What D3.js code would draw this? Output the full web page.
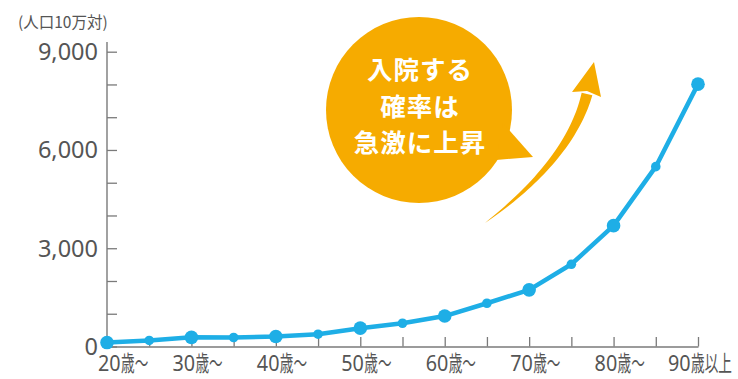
<!DOCTYPE html>
<html><head><meta charset="utf-8">
<script src="https://cdn.jsdelivr.net/npm/d3@7"></script>
<style>
html,body{margin:0;padding:0;background:#fff;}
svg{display:block;font-family:"Noto Sans CJK JP","Noto Sans",sans-serif;}
</style></head>
<body>
<svg id="chart" width="738" height="379"></svg>
<script>
const ages = ["20","25","30","35","40","45","50","55","60","65","70","75","80","85","90"];
const rates = [120, 185, 280, 275, 305, 375, 560, 710, 930, 1320, 1730, 2510, 3690, 5490, 8010];
const majorAges = ["20","30","40","50","60","70","80","90"];
const xLabels = ["20歳〜","30歳〜","40歳〜","50歳〜","60歳〜","70歳〜","80歳〜","90歳以上"];
const yTicks = [0,1000,2000,3000,4000,5000,6000,7000,8000,9000];
const yLabelTicks = [0,3000,6000,9000];
const unitLabel = "(人口10万対)";
const bubbleLines = ["入院する","確率は","急激に上昇"];

const svg = d3.select("#chart");
const x = d3.scalePoint().domain(ages).range([107, 698]);
const y = d3.scaleLinear().domain([0, 9000]).range([346.5, 51.7]);
const gray = "#7a7a7a", textGray = "#555";
const blue = "#1eaee6", orange = "#f6ab00";

// unit label
svg.append("text").attr("x", 18).attr("y", 28).attr("font-size", 15.5).attr("fill", textGray)
  .text(unitLabel);

// y axis
const yAxis = svg.append("g").attr("transform", "translate(107,0)")
  .call(d3.axisRight(y).tickValues(yTicks).tickSize(10).tickFormat(""));
yAxis.select(".domain").attr("d", `M0,42V${y(0)}`).attr("stroke", gray).attr("stroke-width", 1.4);
yAxis.selectAll(".tick line").attr("stroke", gray).attr("stroke-width", 1.3);

svg.append("g").selectAll("text").data(yLabelTicks).join("text")
  .attr("x", 98).attr("y", d => y(d)).attr("dy", "0.36em")
  .attr("text-anchor", "end").attr("font-family", "'Noto Sans',sans-serif")
  .attr("font-size", 23.5).attr("fill", textGray)
  .text(d => d3.format(",")(d));

// x axis
const xAxis = svg.append("g").attr("transform", `translate(0,${y(0)})`)
  .call(d3.axisTop(x).tickSize(9.5).tickFormat("").tickSizeOuter(0));
xAxis.select(".domain").attr("stroke", gray).attr("stroke-width", 1.4);
xAxis.selectAll(".tick line").attr("stroke", gray).attr("stroke-width", 1.3);

// x labels: digits + condensed kanji
const lab = svg.append("g").selectAll("g").data(majorAges).join("g")
  .attr("transform", (d, i) => {
    let sx = x(d) - 19;
    if (i === 0) sx = x(d) - 9;
    if (i === majorAges.length - 1) sx = 668;
    return `translate(${sx},371)`;
  });
lab.append("text").attr("font-size", 22).attr("fill", textGray)
  .attr("font-family", "'Noto Sans',sans-serif")
  .attr("transform", "scale(0.9,1)")
  .text(d => d);
lab.append("text").attr("font-size", 22).attr("fill", textGray)
  .attr("transform", "translate(23,0) scale(0.62,1)")
  .text((d, i) => xLabels[i].slice(d.length));

// line
const data = ages.map((a, i) => ({a, v: rates[i]}));
svg.append("path").datum(data)
  .attr("fill", "none").attr("stroke", blue).attr("stroke-width", 4.5)
  .attr("stroke-linejoin", "round")
  .attr("d", d3.line().x(d => x(d.a)).y(d => y(d.v)));
svg.append("g").selectAll("circle").data(data).join("circle")
  .attr("cx", d => x(d.a)).attr("cy", d => y(d.v))
  .attr("r", d => majorAges.includes(d.a) ? 6.8 : 4.8)
  .attr("fill", blue);

// speech bubble
svg.append("circle").attr("cx", 419).attr("cy", 110).attr("r", 93).attr("fill", orange);
svg.append("path").attr("d", "M503,123L533,157L496,160Z").attr("fill", orange);
svg.append("g").selectAll("text").data(bubbleLines).join("text")
  .attr("x", 420).attr("y", (d, i) => 70 + i * 36.5).attr("dy", "0.36em")
  .attr("text-anchor", "middle").attr("font-size", 25.5).attr("font-weight", "bold")
  .attr("letter-spacing", 1).attr("fill", "#fff").text(d => d);

// curved arrow (tapered shaft + head)
const P0 = [485, 223], C = [570, 160], P2 = [587, 94];
const left = [], right = [];
const N = 40;
for (let k = 0; k <= N; k++) {
  const t = k / N;
  const px = (1-t)*(1-t)*P0[0] + 2*(1-t)*t*C[0] + t*t*P2[0];
  const py = (1-t)*(1-t)*P0[1] + 2*(1-t)*t*C[1] + t*t*P2[1];
  const tx = 2*(1-t)*(C[0]-P0[0]) + 2*t*(P2[0]-C[0]);
  const ty = 2*(1-t)*(C[1]-P0[1]) + 2*t*(P2[1]-C[1]);
  const L = Math.hypot(tx, ty);
  const nx = -ty / L, ny = tx / L;
  const w = 5.5 * Math.pow(t, 0.8);
  left.push([px + nx*w, py + ny*w]);
  right.push([px - nx*w, py - ny*w]);
}
const shaft = left.concat(right.reverse());
svg.append("path").attr("d", "M" + shaft.map(p => p.join(",")).join("L") + "Z").attr("fill", orange);
svg.append("path").attr("d", "M594,62L601,97L587,91L572,92Z").attr("fill", orange);
</script>
</body></html>
